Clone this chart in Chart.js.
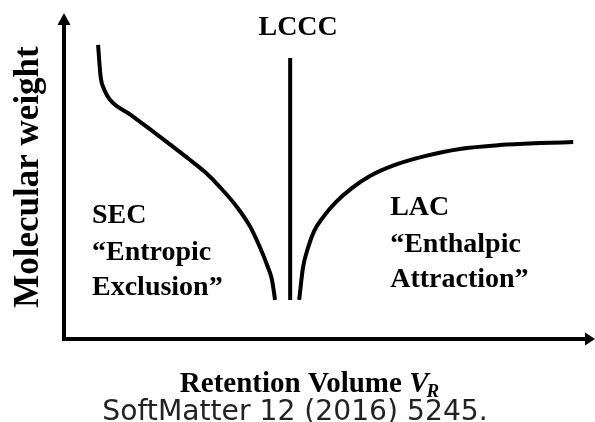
<!DOCTYPE html>
<html>
<head>
<meta charset="utf-8">
<script src="https://cdn.jsdelivr.net/npm/chart.js@4.4.1/dist/chart.umd.min.js"></script>
<style>
  html, body { margin: 0; padding: 0; background: #fff; }
</style>
</head>
<body>
<canvas id="chart" width="595" height="422"></canvas>
<script>
// SEC branch: molecular weight falls as retention volume grows
const secVolume = [6.6, 6.8, 7.1, 7.7, 8.8, 12.6, 16.4, 20.1, 23.9, 26.7, 29.5, 32.7, 35.2, 37.0, 38.5, 39.2, 39.6, 39.85];
const secWeight = [90.2, 85.6, 80.1, 76.7, 73.5, 68.9, 64.3, 59.7, 54.9, 51.2, 46.6, 40.5, 34.4, 28.2, 22.1, 18.7, 15.0, 12.0];

// LCCC: critical point, elution independent of molecular weight
const lcccVolume = [42.7, 42.7];
const lcccWeight = [86.2, 12.0];

// LAC branch: retention grows with molecular weight, then levels off
const lacVolume = [44.4, 45.1, 46.1, 47.2, 48.9, 51.3, 54.3, 57.7, 62.4, 68.0, 74.6, 82.1, 89.7, 95.9];
const lacWeight = [12.0, 21.8, 28.2, 33.1, 37.4, 42.0, 46.3, 50.0, 53.4, 56.1, 58.3, 59.5, 60.1, 60.4];

const xTitle = 'Retention Volume ';
const yTitle = 'Molecular weight';
const source = 'SoftMatter 12 (2016) 5245.';

const toPoints = (xs, ys) => xs.map((x, i) => ({ x: x, y: ys[i] }));

const serif = '"Liberation Serif", "Times New Roman", serif';

// axes with arrow heads, region labels and titles
const decorations = {
  id: 'decorations',
  afterDraw(chart) {
    const { ctx, chartArea, scales } = chart;
    const x0 = chartArea.left + 1;
    const y0 = chartArea.bottom;
    ctx.save();
    ctx.strokeStyle = '#000';
    ctx.fillStyle = '#000';
    ctx.lineWidth = 4;
    ctx.lineCap = 'butt';
    ctx.beginPath();
    ctx.moveTo(x0, chartArea.top + 10);
    ctx.lineTo(x0, y0);
    ctx.lineTo(chartArea.right - 8, y0);
    ctx.stroke();
    // y arrow
    ctx.beginPath();
    ctx.moveTo(x0, chartArea.top);
    ctx.lineTo(x0 - 6.5, chartArea.top + 12);
    ctx.lineTo(x0 + 6.5, chartArea.top + 12);
    ctx.closePath();
    ctx.fill();
    // x arrow
    ctx.beginPath();
    ctx.moveTo(chartArea.right, y0);
    ctx.lineTo(chartArea.right - 10, y0 - 6.5);
    ctx.lineTo(chartArea.right - 10, y0 + 6.5);
    ctx.closePath();
    ctx.fill();

    const px = v => scales.x.getPixelForValue(v);
    const py = v => scales.y.getPixelForValue(v);

    ctx.textBaseline = 'alphabetic';
    ctx.font = 'bold 28px ' + serif;
    ctx.textAlign = 'center';
    ctx.fillText('LCCC', px(44.2), py(93.3));

    ctx.textAlign = 'left';
    ctx.fillText('SEC', px(5.45), py(35.6));
    ctx.fillText('\u201CEntropic', px(5.45), py(24.2));
    ctx.fillText('Exclusion\u201D', px(5.45), py(13.5));
    ctx.fillText('LAC', px(61.5), py(38.0));
    ctx.fillText('\u201CEnthalpic', px(61.5), py(26.7));
    ctx.fillText('Attraction\u201D', px(61.5), py(16.0));

    // y title
    ctx.save();
    ctx.translate(38, 177);
    ctx.rotate(-Math.PI / 2);
    ctx.font = 'bold 35px ' + serif;
    ctx.textAlign = 'center';
    ctx.fillText(yTitle, 0, 0);
    ctx.restore();

    // x title with italic V and subscript R
    const mainFont = 'bold 29px ' + serif;
    const vFont = 'italic bold 29px ' + serif;
    const subFont = 'italic bold 19px ' + serif;
    ctx.font = mainFont;
    const w1 = ctx.measureText(xTitle).width;
    ctx.font = vFont;
    const w2 = ctx.measureText('V').width;
    ctx.font = subFont;
    const w3 = ctx.measureText('R').width;
    let tx = 310.5 - (w1 + w2 + w3) / 2;
    const base = 392;
    ctx.textAlign = 'left';
    ctx.font = mainFont;
    ctx.fillText(xTitle, tx, base);
    tx += w1;
    ctx.font = vFont;
    ctx.fillText('V', tx, base);
    tx += w2 - 2;
    ctx.font = subFont;
    ctx.fillText('R', tx, base + 5);

    // source line
    ctx.font = '25px "DejaVu Sans", sans-serif';
    const sw = ctx.measureText(source).width;
    const scale = 386 / sw;
    ctx.font = (25 * scale).toFixed(1) + 'px "DejaVu Sans", sans-serif';
    ctx.fillStyle = '#222';
    ctx.textAlign = 'center';
    ctx.fillText(source, 295, 420);
    ctx.restore();
  }
};

const lineStyle = {
  borderColor: '#000',
  borderWidth: 4,
  pointRadius: 0,
  fill: false,
  showLine: true,
  cubicInterpolationMode: 'monotone'
};

new Chart(document.getElementById('chart'), {
  type: 'scatter',
  data: {
    datasets: [
      Object.assign({ label: 'SEC', data: toPoints(secVolume, secWeight) }, lineStyle),
      Object.assign({ label: 'LCCC', data: toPoints(lcccVolume, lcccWeight) }, lineStyle),
      Object.assign({ label: 'LAC', data: toPoints(lacVolume, lacWeight) }, lineStyle)
    ]
  },
  options: {
    responsive: false,
    animation: false,
    layout: { padding: { left: 63, right: 0, top: 13, bottom: 83 } },
    plugins: { legend: { display: false }, tooltip: { enabled: false } },
    scales: {
      x: { type: 'linear', min: 0, max: 100, display: false },
      y: { type: 'linear', min: 0, max: 100, display: false }
    }
  },
  plugins: [decorations]
});
</script>
</body>
</html>
